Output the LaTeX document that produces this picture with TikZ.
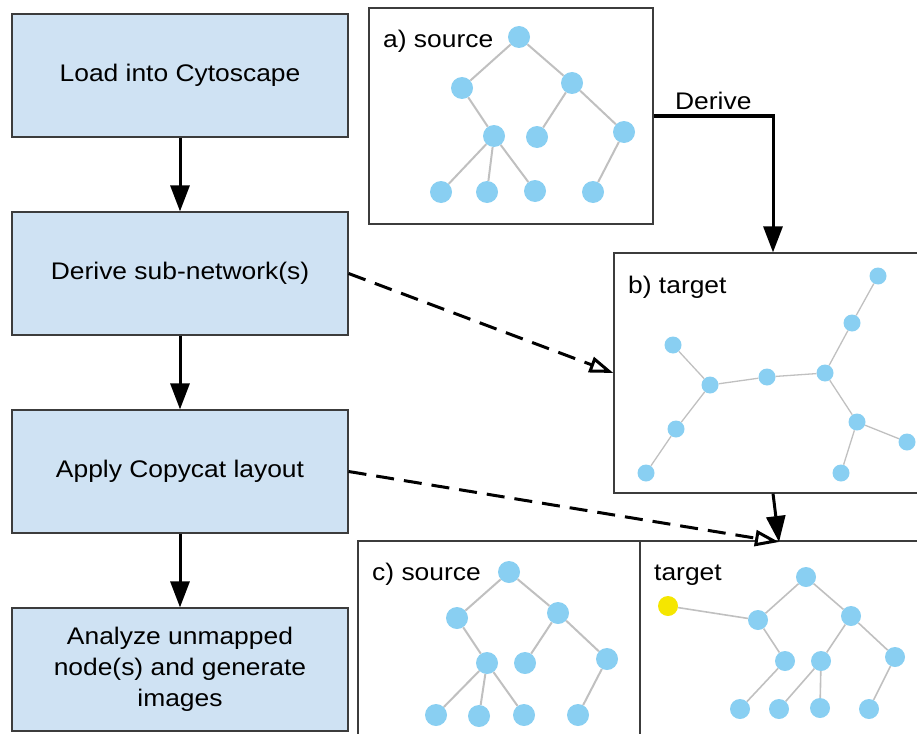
\documentclass[tikz,border=0pt]{standalone}
\usepackage{fontspec}
\setmainfont{Liberation Sans}[FakeStretch=1.1]
\usetikzlibrary{arrows.meta}

\definecolor{boxblue}{RGB}{207,226,243}
\definecolor{vertexblue}{RGB}{137,207,242}
\definecolor{edgegrey}{RGB}{192,192,192}
\definecolor{markyellow}{RGB}{245,230,0}
\definecolor{framegrey}{RGB}{60,60,60}

\tikzstyle{process} = [rectangle, minimum width=336pt, minimum height=123pt, text centered, align=center, draw=framegrey, line width=1.2pt, fill=boxblue, font=\fontsize{24}{31}\selectfont]
\tikzstyle{panel} = [rectangle, draw=framegrey, line width=1.2pt, inner sep=0pt]
\tikzstyle{paneltitle} = [anchor=base west, inner sep=0pt, font=\fontsize{24}{31}\selectfont]
\tikzstyle{vertex} = [circle, fill=vertexblue, inner sep=0pt, minimum size=22pt]
\tikzstyle{smallvertex} = [vertex, minimum size=17pt]
\tikzstyle{link} = [draw=edgegrey, line width=2pt]
\tikzstyle{arrow} = [line width=3pt, -{Triangle[width=19pt,length=26pt]}]
\tikzstyle{mapping} = [line width=3pt, dash pattern=on 18pt off 10pt, -{Triangle[open,width=16pt,length=24pt,fill=white]}]

\begin{document}
\begin{tikzpicture}[x=1pt, y=-1pt, node distance=198pt]

\useasboundingbox (0,0) rectangle (917,733);
\clip (0,0) rectangle (917,733);

% workflow steps
\node (load) [process] at (180,75.5) {Load into Cytoscape};
\node (derive) [process, below of=load] {Derive sub-network(s)};
\node (copycat) [process, below of=derive] {Apply Copycat layout};
\node (analyze) [process, below of=copycat] {Analyze unmapped\\node(s) and generate\\images};

\draw [arrow] (load) -- (derive);
\draw [arrow] (derive) -- (copycat);
\draw [arrow] (copycat) -- (analyze);

% panels
\node (srcA) [panel, minimum width=284pt, minimum height=216pt] at (511,116) {};
\node (tgtB) [panel, minimum width=318pt, minimum height=240pt] at (773,373) {};
\node (srcC) [panel, minimum width=282pt, minimum height=219pt] at (499,650.5) {};
\node (tgtC) [panel, minimum width=295pt, minimum height=219pt] at (787.5,650.5) {};

\node (titleA) [paneltitle] at (383,48) {a) source};
\node (titleB) [paneltitle] at (628,293) {b) target};
\node (titleC) [paneltitle] at (372,580) {c) source};
\node (titleD) [paneltitle] at (654,580) {target};

% a) source tree
\node (a0) [vertex] at (519,37) {};
\node (a1) [vertex] at (462,88) {};
\node (a2) [vertex] at (572,83) {};
\node (a3) [vertex] at (494,136) {};
\node (a4) [vertex] at (537,137) {};
\node (a5) [vertex] at (624,132) {};
\node (a6) [vertex] at (441,192) {};
\node (a7) [vertex] at (487,192) {};
\node (a8) [vertex] at (535,191) {};
\node (a9) [vertex] at (593,192) {};
\draw [link] (a0) -- (a1) (a0) -- (a2) (a1) -- (a3) (a2) -- (a4) (a2) -- (a5)
  (a3) -- (a6) (a3) -- (a7) (a3) -- (a8) (a5) -- (a9);

% b) target layout
\node (b0) [smallvertex] at (878,276) {};
\node (b1) [smallvertex] at (852,323) {};
\node (b2) [smallvertex] at (673,345) {};
\node (b3) [smallvertex] at (710,385) {};
\node (b4) [smallvertex] at (767,377) {};
\node (b5) [smallvertex] at (825,373) {};
\node (b6) [smallvertex] at (676,429) {};
\node (b7) [smallvertex] at (857,422) {};
\node (b8) [smallvertex] at (907,442) {};
\node (b9) [smallvertex] at (646,473) {};
\node (b10) [smallvertex] at (841,473) {};
\draw [link, line width=1.3pt] (b0) -- (b1) (b1) -- (b5) (b2) -- (b3) (b3) -- (b4) (b4) -- (b5)
  (b3) -- (b6) (b6) -- (b9) (b5) -- (b7) (b7) -- (b8) (b7) -- (b10);

% c) source tree
\node (c0) [vertex] at (509,572) {};
\node (c1) [vertex] at (457,618) {};
\node (c2) [vertex] at (558,613) {};
\node (c3) [vertex] at (487,663) {};
\node (c4) [vertex] at (525,663) {};
\node (c5) [vertex] at (607,659) {};
\node (c6) [vertex] at (436,715) {};
\node (c7) [vertex] at (479,716) {};
\node (c8) [vertex] at (524,715) {};
\node (c9) [vertex] at (578,715) {};
\draw [link] (c0) -- (c1) (c0) -- (c2) (c1) -- (c3) (c2) -- (c4) (c2) -- (c5)
  (c3) -- (c6) (c3) -- (c7) (c3) -- (c8) (c5) -- (c9);

% c) target after copycat
\node (d0) [vertex, minimum size=20pt] at (806,577) {};
\node (dx) [vertex, minimum size=20pt, fill=markyellow] at (668,606) {};
\node (d1) [vertex, minimum size=20pt] at (758,620) {};
\node (d2) [vertex, minimum size=20pt] at (851,616) {};
\node (d3) [vertex, minimum size=20pt] at (785,661) {};
\node (d4) [vertex, minimum size=20pt] at (821,661) {};
\node (d5) [vertex, minimum size=20pt] at (895,657) {};
\node (d6) [vertex, minimum size=20pt] at (740,709) {};
\node (d7) [vertex, minimum size=20pt] at (779,709) {};
\node (d8) [vertex, minimum size=20pt] at (820,708) {};
\node (d9) [vertex, minimum size=20pt] at (869,709) {};
\draw [link, line width=1.6pt] (d0) -- (d1) (d0) -- (d2) (dx) -- (d1) (d1) -- (d3) (d3) -- (d6)
  (d2) -- (d4) (d4) -- (d7) (d4) -- (d8) (d2) -- (d5) (d5) -- (d9);

% connectors between panels
\coordinate (meet) at (779,542);
\draw [arrow] (srcA.east) -| (tgtB.north) node [pos=0.25, above, inner sep=5pt, font=\fontsize{24}{31}\selectfont] {Derive};
\draw [arrow] (tgtB.south) -- (meet);
\draw [mapping] (derive.east) -- (tgtB.west);
\draw [mapping] (copycat.east) -- (meet);

\end{tikzpicture}
\end{document}
